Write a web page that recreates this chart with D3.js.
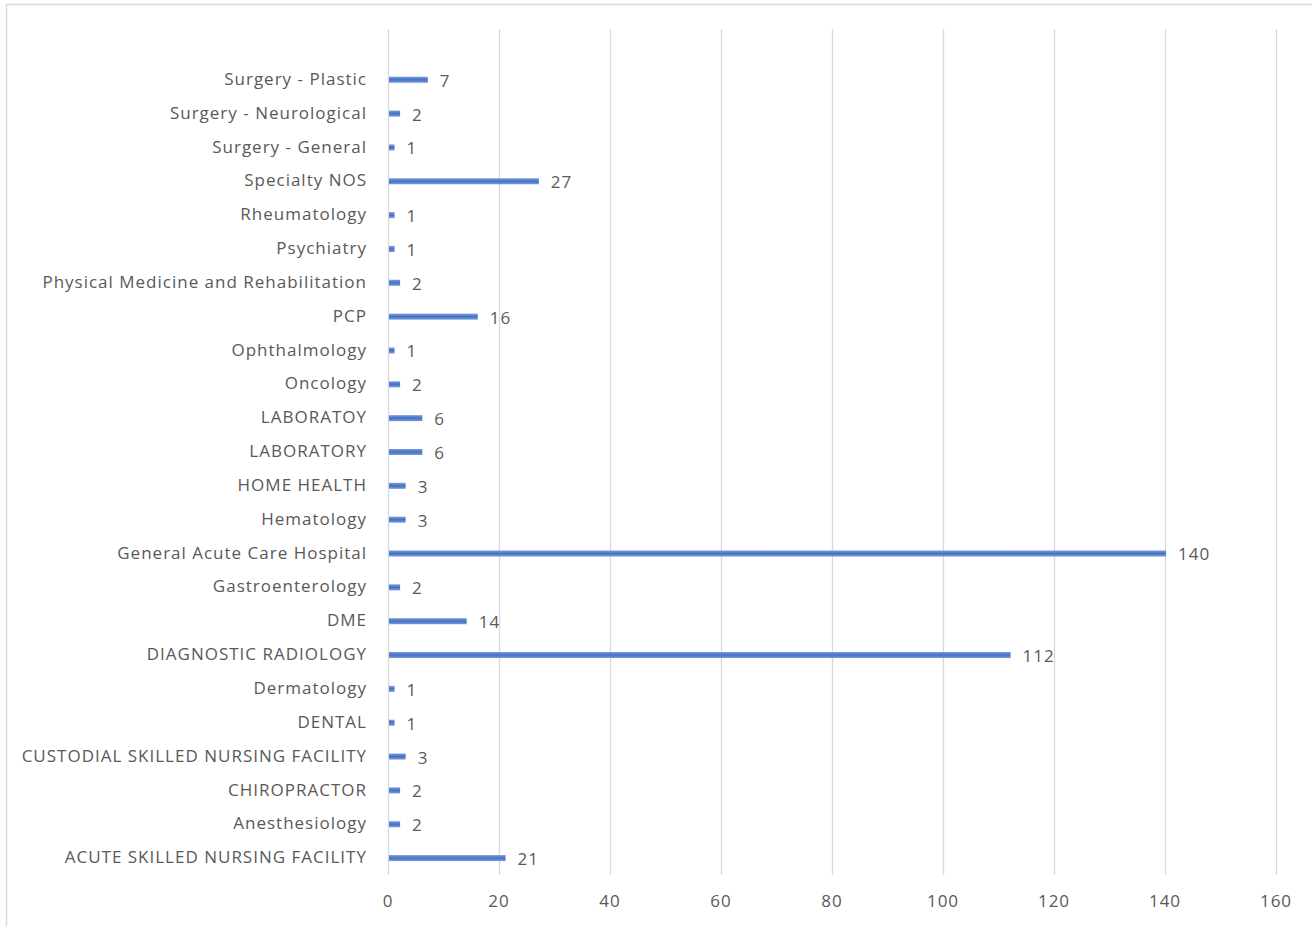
<!DOCTYPE html>
<html><head><meta charset="utf-8">
<script src="https://cdn.jsdelivr.net/npm/d3@7/dist/d3.min.js"></script>
<style>body{margin:0;background:#fff}svg{display:block}</style>
</head><body>
<svg id="chart" width="1312" height="926"></svg>
<script>
const categories = ["Surgery - Plastic","Surgery - Neurological","Surgery - General","Specialty NOS","Rheumatology","Psychiatry","Physical Medicine and Rehabilitation","PCP","Ophthalmology","Oncology","LABORATOY","LABORATORY","HOME HEALTH","Hematology","General Acute Care Hospital","Gastroenterology","DME","DIAGNOSTIC RADIOLOGY","Dermatology","DENTAL","CUSTODIAL SKILLED NURSING FACILITY","CHIROPRACTOR","Anesthesiology","ACUTE SKILLED NURSING FACILITY"];
const values = [7,2,1,27,1,1,2,16,1,2,6,6,3,3,140,2,14,112,1,1,3,2,2,21];
const xTicks = [0,20,40,60,80,100,120,140,160];

const svg = d3.select("#chart");
const font = "'Open Sans', sans-serif";
const textColor = "#595959";
const gridColor = "#d9d9d9";
const fs = "17px", ls = "1px";

svg.append("rect").attr("x",6.5).attr("y",4.5).attr("width",1320).attr("height",940)
  .attr("fill","none").attr("stroke",gridColor).attr("stroke-width",1.5);

const defs = svg.append("defs");
const grad = defs.append("linearGradient").attr("id","barGrad").attr("x1",0).attr("y1",0).attr("x2",0).attr("y2",1);
grad.append("stop").attr("offset","0%").attr("stop-color","#7a9bd8");
grad.append("stop").attr("offset","50%").attr("stop-color","#4472c4");
grad.append("stop").attr("offset","100%").attr("stop-color","#7a9bd8");

const x = d3.scaleLinear().domain([0,160]).range([388,1276]);
const plotTop = 29, plotBottom = 875;
const y = d3.scaleBand().domain(["", ...categories]).range([plotTop, plotBottom]).paddingInner(0).paddingOuter(0);

svg.append("g").selectAll("line").data(xTicks).join("line")
  .attr("x1", d => x(d)+0.5).attr("x2", d => x(d)+0.5)
  .attr("y1", plotTop).attr("y2", plotBottom)
  .attr("stroke", gridColor).attr("stroke-width", 1.3);

svg.append("g").selectAll("text").data(xTicks).join("text")
  .attr("x", d => x(d)).attr("y", 901).attr("dy","0.35em")
  .attr("text-anchor","middle").attr("fill",textColor)
  .style("font-family",font).style("font-size",fs).style("letter-spacing",ls).text(d => d);

const barH = 6;
svg.append("g").selectAll("rect").data(categories).join("rect")
  .attr("x", x(0)+1).attr("y", d => y(d) + y.bandwidth()/2 - barH/2)
  .attr("width", (d,i) => x(values[i]) - x(0))
  .attr("height", barH).attr("fill","url(#barGrad)");

svg.append("g").selectAll("text").data(categories).join("text")
  .attr("x", 367).attr("y", d => y(d) + y.bandwidth()/2).attr("dy","0.3em")
  .attr("text-anchor","end").attr("fill",textColor)
  .style("font-family",font).style("font-size",fs).style("letter-spacing",ls).text(d => d);

svg.append("g").selectAll("text").data(categories).join("text")
  .attr("x", (d,i) => x(values[i]) + 13).attr("y", d => y(d) + y.bandwidth()/2 + 1).attr("dy","0.35em")
  .attr("text-anchor","start").attr("fill",textColor)
  .style("font-family",font).style("font-size",fs).style("letter-spacing",ls).text((d,i) => values[i]);
</script>
</body></html>
